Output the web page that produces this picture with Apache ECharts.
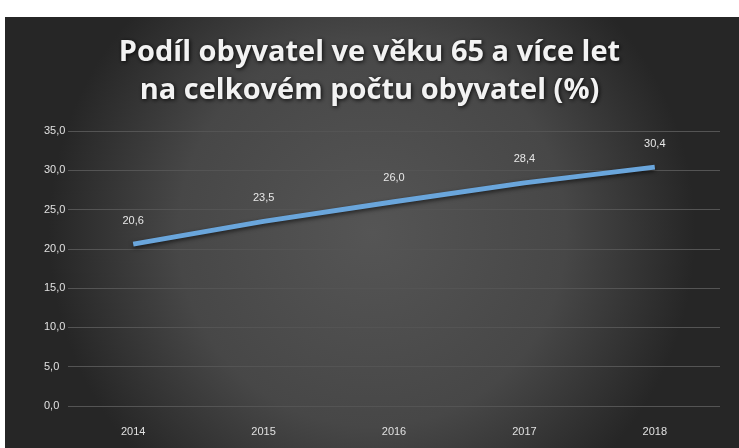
<!DOCTYPE html>
<html><head><meta charset="utf-8">
<script src="https://cdn.jsdelivr.net/npm/echarts@6/dist/echarts.min.js"></script>
<style>html,body{margin:0;padding:0;background:#fff}#c{width:739px;height:448px}</style>
</head><body><div id="c"></div>
<script>
const titleLines = ['Podíl obyvatel ve věku 65 a více let', 'na celkovém počtu obyvatel (%)'];
const years = ['2014', '2015', '2016', '2017', '2018'];
const shares = [20.6, 23.5, 26.0, 28.4, 30.4];
const yMin = 0, yMax = 35, yStep = 5;

const fmt = v => Number(v).toFixed(1).replace('.', ',');
const chart = echarts.init(document.getElementById('c'));
chart.setOption({
  backgroundColor: '#ffffff',
  animation: false,
  graphic: [{
    type: 'rect', left: 5, top: 17, z: -10,
    shape: { width: 734, height: 431 },
    style: {
      fill: new echarts.graphic.RadialGradient(0.5, 0.5, 0.75, [
        { offset: 0, color: '#555555' },
        { offset: 0.6, color: '#474747' },
        { offset: 1, color: '#262626' }
      ])
    }
  }],
  title: {
    text: titleLines.join('\n'),
    left: 'center', top: 29,
    textStyle: {
      color: '#f2f2f2', fontSize: 29, fontWeight: 'bold', fontFamily: 'Open Sans',
      lineHeight: 38, textShadowColor: 'rgba(0,0,0,0.9)', textShadowBlur: 4,
      textShadowOffsetX: 1, textShadowOffsetY: 1
    }
  },
  grid: { left: 68, right: 19, top: 131, bottom: 42 },
  xAxis: {
    type: 'category', data: years, boundaryGap: true,
    axisLine: { show: false }, axisTick: { show: false },
    axisLabel: { color: '#e0e0e0', fontSize: 11, margin: 20, fontFamily: 'Liberation Sans' }
  },
  yAxis: {
    type: 'value', min: yMin, max: yMax, interval: yStep,
    axisLine: { show: false }, axisTick: { show: false },
    axisLabel: { color: '#e0e0e0', fontSize: 11, margin: 24, align: 'left', formatter: fmt, fontFamily: 'Liberation Sans' },
    splitLine: { lineStyle: { color: '#545454', width: 1 } }
  },
  series: [{
    type: 'line', data: shares,
    showSymbol: true, symbol: 'circle', symbolSize: 2,
    itemStyle: { color: 'rgba(0,0,0,0)', borderWidth: 0 },
    lineStyle: { color: '#6aa6dc', width: 5, shadowColor: 'rgba(0,0,0,0.6)', shadowBlur: 4, shadowOffsetY: 2 },
    label: {
      show: true, position: 'top', distance: 17, color: '#e8e8e8', fontSize: 11,
      fontFamily: 'Liberation Sans',
      formatter: p => fmt(p.value)
    }
  }]
});
</script></body></html>
